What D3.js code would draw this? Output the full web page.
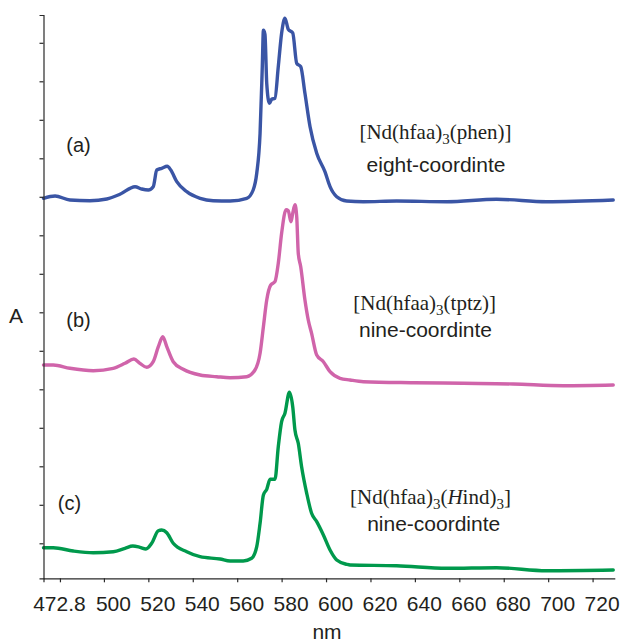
<!DOCTYPE html>
<html>
<head>
<meta charset="utf-8">
<script src="https://cdn.jsdelivr.net/npm/d3@7"></script>
<style>
  html, body { margin: 0; padding: 0; background: #fff; }
  svg { display: block; }
</style>
</head>
<body>
<svg id="chart" width="621" height="642"></svg>
<script>
// ---------- data (wavelength nm, absorbance in arbitrary units) ----------
const seriesA = [
  [472.8,380],[478.0,382.3],[484.7,378.3],[493.7,377.6],[501.3,379.3],[507.2,384],
  [514.0,391.6],[517.0,389.3],[520.0,388.3],[522.2,391.6],[523.8,408.3],[526.0,410],
  [528.5,412],[530.1,408.3],[532.8,396.6],[537.3,386.6],[543.3,380],[549.2,377.6],
  [556.8,377.3],[564.3,380],[567.2,388.3],[568.8,405],[570.3,445],[571.3,511.6],
  [571.8,548],[572.5,544],[573.3,495],[574.5,475],[575.5,479],[577.0,480],
  [578.5,511.6],[580.0,545],[581.5,560],[583.0,549],[585.0,545.5],[586.8,515],
  [588.6,511.6],[590.5,485],[592.8,451.6],[595.8,425],[599.5,406.6],[601.8,391.6],
  [604.8,381.6],[609.3,377.3],[616.8,376.6],[631.8,377.3],[654.3,376.6],[676.8,379],
  [699.3,376.6],[729.3,378.3]
];
const seriesB = [
  [472.8,213.3],[477.2,213.3],[484.7,210],[495.2,207.6],[504.2,210],[509.5,215],
  [513.5,219.3],[516.2,215],[519.3,211],[522.2,216.6],[524.5,231.6],[526.5,241.5],
  [528.3,231.6],[531.2,216.6],[535.7,209],[543.3,203.3],[550.8,201.6],[556.8,200.6],
  [564.3,201.6],[568.0,208.3],[570.3,225],[571.8,251.6],[573.3,278.3],[575.1,293.3],
  [577.0,296.6],[578.5,315],[580.0,345],[582.0,368.5],[583.0,367.5],[584.2,356.6],
  [585.0,365],[586.0,373.5],[586.8,361.6],[587.5,325],[588.6,311.6],[590.5,278.3],
  [592.0,258.3],[593.5,245],[595.8,223.3],[598.8,216.6],[601.8,206.6],[606.3,200],
  [610.8,198.3],[616.8,196.6],[639.3,195.6],[661.8,195],[684.3,194.3],[706.8,192.6],
  [729.3,193.3]
];
const seriesC = [
  [472.8,30.6],[477.2,30.6],[486.2,27.3],[495.2,25.6],[504.2,26.6],[509.5,30],
  [513.0,32.3],[516.2,31],[518.9,29.3],[521.5,35],[524.5,47.6],[526.0,48.3],
  [528.3,45.6],[531.2,35],[537.3,26.6],[543.3,21.6],[552.3,19.3],[556.8,17.3],
  [562.7,17.3],[566.5,20],[568.8,31.6],[570.3,55],[571.8,83.3],[573.3,89],
  [574.8,99],[577.0,99],[578.5,131.6],[580.0,156.6],[581.5,165],[583.5,186],
  [585.0,171.6],[586.0,148.3],[587.5,135],[589.0,111.6],[591.3,85],[593.5,65],
  [595.8,56.6],[598.8,43.3],[601.8,28.3],[604.8,18.3],[609.3,14],[610.8,13.3],
  [631.8,12.6],[654.3,10],[676.8,10.6],[699.3,7.6],[729.3,8.3]
];
const seriesNames = ["(a)", "(b)", "(c)"];
const seriesColors = ["#3a55a5", "#d064aa", "#00994c"];
const complexNames = [
  [["[Nd(hfaa)", ""], ["3", "sub"], ["(phen)]", ""]],
  [["[Nd(hfaa)", ""], ["3", "sub"], ["(tptz)]", ""]],
  [["[Nd(hfaa)", ""], ["3", "sub"], ["(", ""], ["H", "it"], ["ind)", ""], ["3", "sub"], ["]", ""]]
];
const coordination = ["eight-coordinte", "nine-coordinte", "nine-coordinte"];
const xTickValues = [480.2, 500, 520, 540, 560, 580, 600, 620, 640, 660, 680, 700, 720];
const xTickLabels = ["472.8", "500", "520", "540", "560", "580", "600", "620", "640", "660", "680", "700", "720"];
const yTickValues = [35, 73.5, 112, 150.5, 189, 227.5, 266, 304.5, 343, 381.5, 420, 458.5, 497, 535.5];
const xDomain = [472.8, 730];
const yDomain = [0, 563.3];
const xTitle = "nm";
const yTitle = "A";

// ---------- drawing ----------
const svg = d3.select("#chart");
const sans = "'Liberation Sans', Arial, sans-serif";
const serif = "'Liberation Serif', 'Times New Roman', serif";
const textColor = "#231f20";

const x = d3.scaleLinear().domain(xDomain).range([43.5, 614.8]);
const y = d3.scaleLinear().domain(yDomain).range([578.3, 15]);

// lines
const line = d3.line()
  .x(d => x(d[0]))
  .y(d => y(d[1]))
  .curve(d3.curveMonotoneX);

[seriesA, seriesB, seriesC].forEach((s, i) => {
  svg.append("path")
    .datum(s)
    .attr("d", line)
    .attr("fill", "none")
    .attr("stroke", seriesColors[i])
    .attr("stroke-width", 3.4)
    .attr("stroke-linejoin", "round")
    .attr("stroke-linecap", "round");
});

// y axis
const yAxis = svg.append("g")
  .attr("transform", `translate(${x(xDomain[0])},0)`)
  .call(d3.axisLeft(y).tickValues(yTickValues).tickFormat("").tickSizeInner(4).tickSizeOuter(4));

// x axis
const xAxis = svg.append("g")
  .attr("transform", `translate(0,${y(yDomain[0])})`)
  .call(d3.axisBottom(x).tickValues(xTickValues)
    .tickFormat((d, i) => xTickLabels[i]).tickSizeInner(4).tickSizeOuter(0).tickPadding(14));
// origin tick
svg.append("g")
  .attr("transform", `translate(0,${y(yDomain[0])})`)
  .call(d3.axisBottom(x).tickValues([xDomain[0]]).tickFormat("").tickSizeInner(4).tickSizeOuter(0))
  .select(".domain").remove();

svg.selectAll(".domain, .tick line")
  .attr("stroke", "#2a2a2a")
  .attr("stroke-width", 1.2);

xAxis.selectAll(".tick text")
  .attr("font-family", sans)
  .attr("font-size", 21)
  .attr("fill", textColor)
  .attr("dx", (d, i) => i === 0 ? -1 : 9);

// axis titles
svg.append("text")
  .attr("x", 327).attr("y", 639)
  .attr("text-anchor", "middle")
  .attr("font-family", sans).attr("font-size", 21).attr("fill", textColor)
  .text(xTitle);
svg.append("text")
  .attr("x", 16).attr("y", 323.3)
  .attr("text-anchor", "middle")
  .attr("font-family", sans).attr("font-size", 21).attr("fill", textColor)
  .text(yTitle);

// series tags (a), (b), (c)
const tagPos = [[78.5, 151.5], [78.5, 327], [69.5, 509.5]];
seriesNames.forEach((n, i) => {
  svg.append("text")
    .attr("x", tagPos[i][0]).attr("y", tagPos[i][1])
    .attr("text-anchor", "middle")
    .attr("font-family", sans).attr("font-size", 20).attr("fill", textColor)
    .text(n);
});

// complex labels
const namePos = [[435.5, 139.3], [424.7, 310], [430.5, 504]];
const coordPos = [[436, 171.7], [425.5, 337], [433.7, 530.7]];
complexNames.forEach((parts, i) => {
  const t = svg.append("text")
    .attr("x", namePos[i][0]).attr("y", namePos[i][1])
    .attr("text-anchor", "middle")
    .attr("font-family", serif).attr("font-size", 21).attr("fill", textColor);
  let shifted = false;
  parts.forEach(([s, kind]) => {
    const ts = t.append("tspan").text(s);
    if (kind === "sub") {
      ts.attr("font-size", 15).attr("dy", shifted ? 0 : 5);
      shifted = true;
    } else {
      if (shifted) { ts.attr("dy", -5); shifted = false; }
      if (kind === "it") ts.attr("font-style", "italic");
    }
  });
  svg.append("text")
    .attr("x", coordPos[i][0]).attr("y", coordPos[i][1])
    .attr("text-anchor", "middle")
    .attr("font-family", sans).attr("font-size", 21).attr("fill", textColor)
    .text(coordination[i]);
});
</script>
</body>
</html>
